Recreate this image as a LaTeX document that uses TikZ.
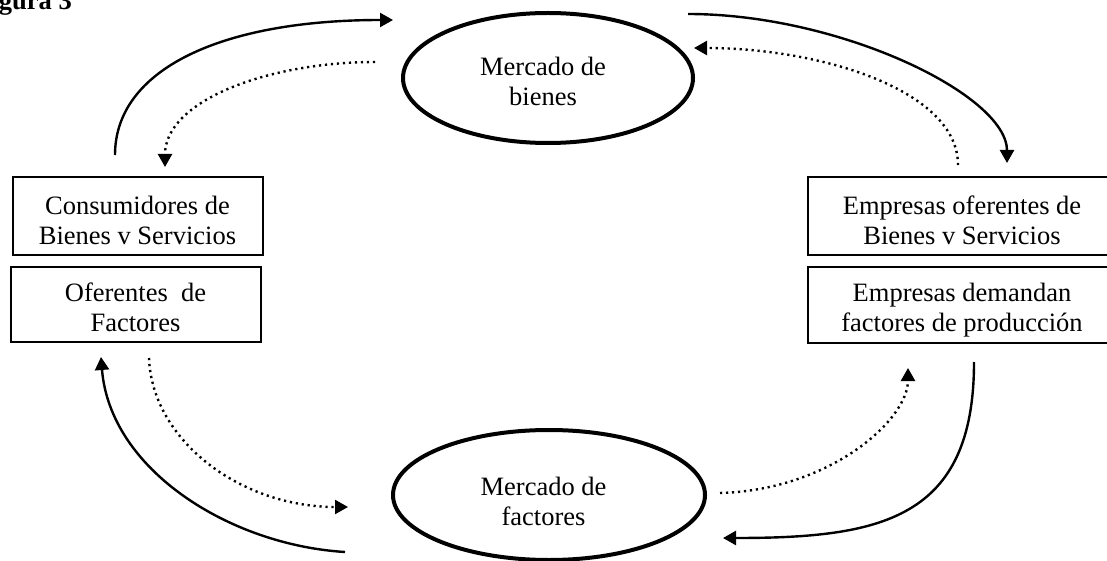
\documentclass[tikz,border=0pt]{standalone}
\usepackage{fontspec}
\setmainfont{Liberation Serif}
\usetikzlibrary{arrows.meta,shapes.geometric}
\begin{document}
\begin{tikzpicture}[x=1pt,y=-1pt,
  boxshape/.style={draw, line width=1.9pt, inner sep=0pt, minimum height=78pt},
  market/.style={draw, ellipse, line width=4pt, inner sep=0pt, minimum height=130pt},
  txt/.style={font=\fontsize{26.5}{30}\selectfont, align=center, inner sep=0pt},
  flow/.style={line width=2.4pt, -{Triangle[length=13pt,width=14pt]}},
  moneyflow/.style={line width=2.4pt, dash pattern=on 2.2pt off 3.8pt, -{Triangle[length=13pt,width=14pt]}}
]
\useasboundingbox (0,0) rectangle (1107,561);
\clip (0,0) rectangle (1107,561);

% title
\node[anchor=base east, inner sep=0pt, font=\fontsize{26.5}{30}\selectfont\bfseries] (titulo) at (72,10) {Figura 3};

% boxes
\node[boxshape, minimum width=250pt] (cons) at (138,216) {};
\node[boxshape, minimum width=250pt, minimum height=75pt] (ofer) at (136,304.5) {};
\node[boxshape, minimum width=312pt] (empof) at (964,216) {};
\node[boxshape, minimum width=312pt, minimum height=76pt] (empdem) at (964,305) {};

\node[txt] (consT) at (137.5,220.5) {Consumidores de\\Bienes v Servicios};
\node[txt] (oferT) at (135.5,306.9) {Oferentes\ \ de\\Factores};
\node[txt] (empofT) at (962,220.5) {Empresas oferentes de\\Bienes v Servicios};
\node[txt] (empdemT) at (962,309.8) {Empresas demandan\\factores de producción};

% markets
\node[market, minimum width=290pt] (bienes) at (548,78) {};
\node[market, minimum width=312pt] (factores) at (549,495) {};
\node[txt] (bienesT) at (543,81.5) {Mercado de\\bienes};
\node[txt] (factoresT) at (543.5,501.5) {Mercado de\\factores};

% connector ends
\coordinate (a1s) at (115,155);  \coordinate (a1e) at (393,20);
\coordinate (a2s) at (375,62);   \coordinate (a2e) at (165,167);
\coordinate (a3s) at (688,14);   \coordinate (a3e) at (1007,163);
\coordinate (a4s) at (958,165);  \coordinate (a4e) at (694,48);
\coordinate (a5s) at (345,552);  \coordinate (a5e) at (101,357);
\coordinate (a6s) at (149,358);  \coordinate (a6e) at (348,507);
\coordinate (a7s) at (720,493);  \coordinate (a7e) at (908,368);
\coordinate (a8s) at (974,362);  \coordinate (a8e) at (723,538);

% flows
\draw[flow] (a1s) .. controls (115,70) and (220,20) .. (a1e);
\draw[moneyflow] (a2s) .. controls (270,62) and (165,100) .. (a2e);
\draw[flow] (a3s) .. controls (840,14) and (1007,95) .. (a3e);
\draw[moneyflow] (a4s) .. controls (958,90) and (820,48) .. (a4e);
\draw[flow] (a5s) .. controls (230,545) and (110,470) .. (a5e);
\draw[moneyflow] (a6s) .. controls (152,440) and (240,507) .. (a6e);
\draw[moneyflow] (a7s) .. controls (830,490) and (908,420) .. (a7e);
\draw[flow] (a8s) .. controls (974,520) and (880,538) .. (a8e);
\end{tikzpicture}
\end{document}
